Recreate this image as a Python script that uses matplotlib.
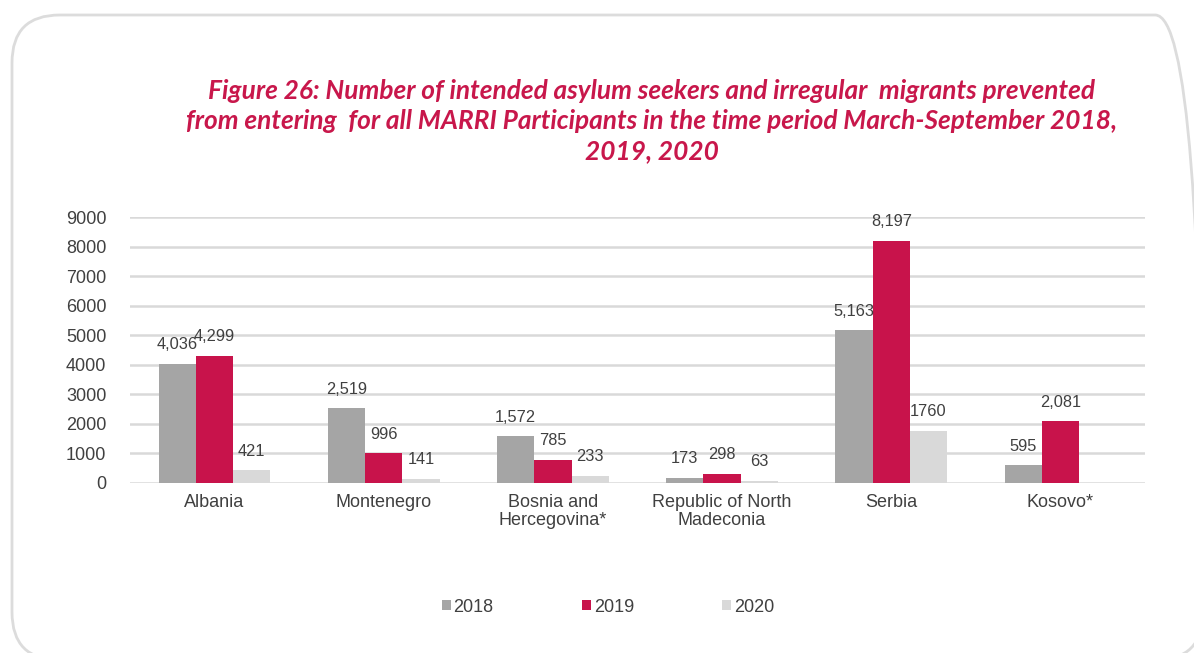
import matplotlib
matplotlib.use("Agg")
import matplotlib.pyplot as plt
import numpy as np
from matplotlib.patches import FancyBboxPatch, Patch

categories = ["Albania", "Montenegro", "Bosnia and\nHercegovina*",
              "Republic of North\nMadeconia", "Serbia", "Kosovo*"]
years = ["2018", "2019", "2020"]
v2018 = [4036, 2519, 1572, 173, 5163, 595]
v2019 = [4299, 996, 785, 298, 8197, 2081]
v2020 = [421, 141, 233, 63, 1760, np.nan]
lab2018 = ["4,036", "2,519", "1,572", "173", "5,163", "595"]
lab2019 = ["4,299", "996", "785", "298", "8,197", "2,081"]
lab2020 = ["421", "141", "233", "63", "1760", ""]
yticks = [0, 1000, 2000, 3000, 4000, 5000, 6000, 7000, 8000, 9000]

colors = ["#A5A5A5", "#C8134B", "#D9D9D9"]
title = ("Figure 26: Number of intended asylum seekers and irregular  migrants prevented\n"
         "from entering  for all MARRI Participants in the time period March-September 2018,\n"
         "2019, 2020")

W, H = 1194, 653
fig = plt.figure(figsize=(W / 100, H / 100), dpi=100)

# rounded frame
frame = FancyBboxPatch((12 / W, 1 - 660 / H), (1203 - 12) / W, (660 - 15) / H,
                       boxstyle="round,pad=0,rounding_size=0.04",
                       transform=fig.transFigure, facecolor="none",
                       edgecolor="#DCDCDC", linewidth=2, clip_on=False,
                       mutation_aspect=W / H, zorder=-5)
fig.patches.append(frame)

ax = fig.add_axes([130 / W, 1 - 482.7 / H, (1145 - 130) / W, (482.7 - 217.3) / H])
ax.set_facecolor("none")

x = np.arange(len(categories))
bw = 0.22
series = [v2018, v2019, v2020]
labels = [lab2018, lab2019, lab2020]
for i, (vals, labs, c) in enumerate(zip(series, labels, colors)):
    pos = x + (i - 1) * bw
    ax.bar(pos, vals, width=bw, color=c, zorder=3, label=years[i])
    for p, v, t in zip(pos, vals, labs):
        if t and not np.isnan(v):
            ax.annotate(t, (p, v), xytext=(0, 19), textcoords="offset pixels",
                        ha="center", va="center", fontsize=11.8,
                        family="Liberation Sans", color="#404040", zorder=4)

ax.set_xlim(-0.5, len(categories) - 0.5)
ax.set_ylim(0, 9000)
ax.set_yticks(yticks)
ax.set_yticklabels([str(t) for t in yticks], family="Liberation Sans",
                   fontsize=13, color="#404040")
ax.set_xticks(x)
ax.set_xticklabels(categories, family="Liberation Sans", fontsize=13,
                   color="#404040", linespacing=1.1)
ax.tick_params(axis="both", length=0)
ax.tick_params(axis="y", pad=17)
ax.tick_params(axis="x", pad=8)
ax.grid(axis="y", color="#D9D9D9", linewidth=1.8, zorder=0)
for s in ax.spines.values():
    s.set_visible(False)

fig.text(652 / W, 1 - 121 / H, title, ha="center", va="center",
         family="Lato", weight="bold", style="italic", fontsize=18.9,
         color="#C8174B", linespacing=1.3)

handles = [Patch(facecolor=c, edgecolor="none") for c in colors]
leg = fig.legend(handles, years, loc="center", bbox_to_anchor=(608 / W, 1 - 607 / H),
                 ncol=3, frameon=False, handlelength=0.5, handleheight=0.5,
                 handletextpad=0.15, columnspacing=4.9,
                 prop={"family": "Liberation Sans", "size": 13})
for t in leg.get_texts():
    t.set_color("#404040")

fig.savefig("out.png", dpi=100)
